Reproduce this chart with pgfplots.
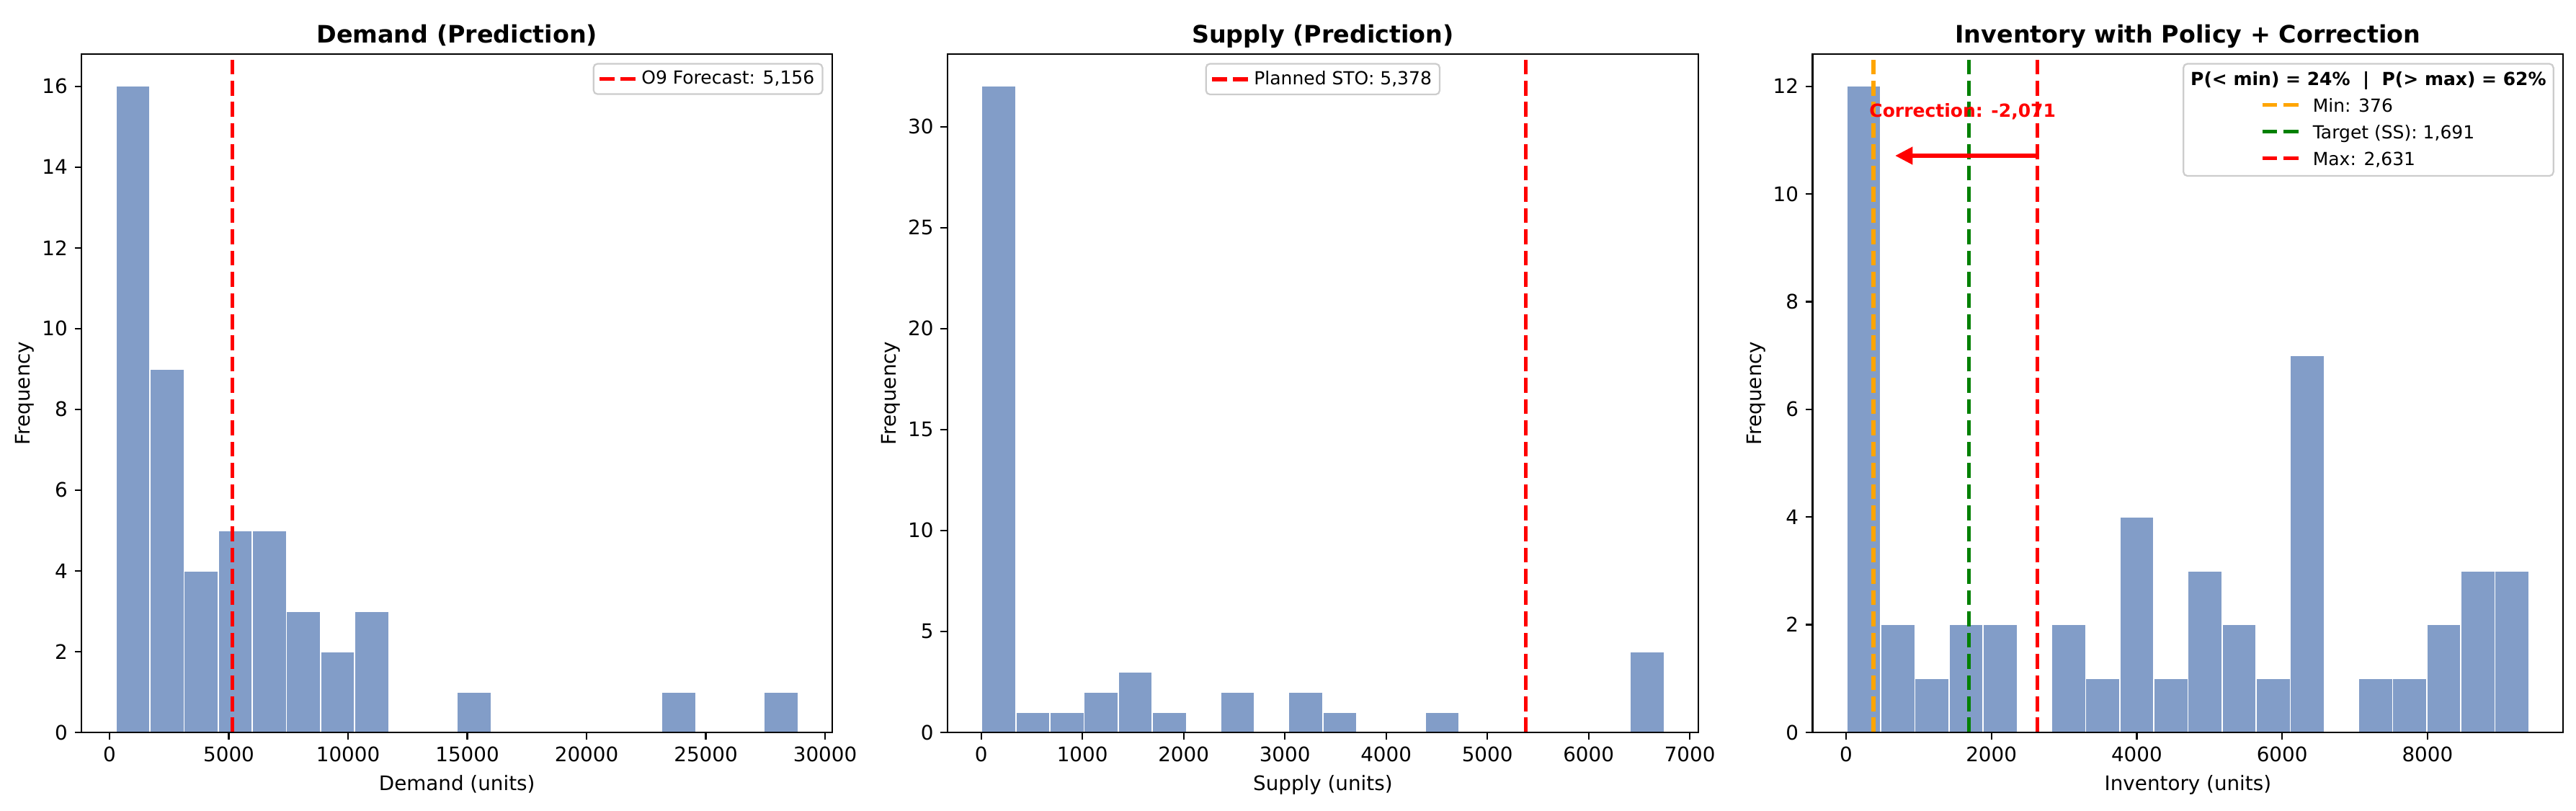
\documentclass[border=0pt]{standalone}
\usepackage{fontspec}
\setmainfont{DejaVu Sans}
\usepackage{pgfplots}
\pgfplotsset{compat=1.18}
\usetikzlibrary{arrows.meta}

\definecolor{barblue}{RGB}{130,157,200}
\definecolor{mplorange}{RGB}{255,165,0}
\definecolor{mplgreen}{RGB}{0,128,0}
\definecolor{mplred}{RGB}{255,0,0}
\definecolor{legedge}{RGB}{204,204,204}

\newlength{\entrywidth}
\newcommand{\handle}[1]{\textcolor{#1}{\rule[0.3em]{7.4pt}{2pt}\hspace{3.2pt}\rule[0.3em]{7.4pt}{2pt}}\hspace{7.3pt}}

\pgfplotsset{
  every axis title shift=0pt,
  mystyle/.style={
    scale only axis, width=375pt, height=338.8pt,
    anchor=south west,
    axis line style={line width=0.8pt},
    tick align=outside, tick pos=left,
    major tick length=3.5pt,
    every tick/.style={black, line width=0.8pt},
    tick label style={font=\fontsize{10}{12}\selectfont},
    label style={font=\fontsize{10}{12}\selectfont},
    ylabel style={yshift=-3pt},
    title style={font=\bfseries\fontsize{12}{14}\selectfont, at={(0.5,1)}, anchor=base, yshift=5.4pt},
    scaled ticks=false,
    /pgf/number format/1000 sep={},
    /pgf/number format/assume math mode=true,
    ymin=0,
    axis on top,
    legend cell align=left,
    legend style={font=\fontsize{9}{11}\selectfont, draw=legedge, rounded corners=2pt,
      fill=white, fill opacity=0.8, text opacity=1, inner xsep=2pt, inner ysep=1.5pt,
      line width=0.8pt},
    legend image code/.code={\draw[##1] (0pt,0pt) -- (18pt,0pt);},
  },
  hist/.style={ybar interval, fill=barblue, draw=white, line width=0.6pt, forget plot},
  vline/.style={line width=2pt, dash pattern=on 7.4pt off 3.2pt},
}

\begin{document}
\settowidth{\entrywidth}{\fontsize{9}{13.3}\selectfont\handle{black}Target (SS): 1,691}%
\begin{tikzpicture}
\path[use as bounding box] (0,0) rectangle (1287pt,404.64pt);

% ---------------- Panel 1: Demand ----------------
\begin{axis}[mystyle, at={(40.8pt,38.9pt)},
  xmin=-1169, xmax=30302, ymax=16.8,
  xtick={0,5000,10000,15000,20000,25000,30000},
  ytick={0,2,4,6,8,10,12,14,16},
  title={Demand (Prediction)},
  xlabel={Demand (units)}, ylabel={Frequency},
  legend style={at={(1,1)}, anchor=north east, xshift=-4.5pt, yshift=-4.5pt}]
\addplot[hist] coordinates {
(261.5,16) (1692,9) (3122.5,4) (4553,5) (5983.5,5) (7414,3) (8844.5,2) (10275,3)
(11705.5,0) (13136,0) (14566.5,1) (15997,0) (17427.5,0) (18858,0) (20288.5,0)
(21719,0) (23149.5,1) (24580,0) (26010.5,0) (27441,1) (28871.5,0)};
\addplot[vline, mplred] coordinates {(5156,0) (5156,16.8)};
\addlegendentry{O9 Forecast: 5,156}
\end{axis}

% ---------------- Panel 2: Supply ----------------
\begin{axis}[mystyle, at={(473.4pt,38.9pt)},
  xmin=-332, xmax=7082, ymax=33.6,
  xtick={0,1000,2000,3000,4000,5000,6000,7000},
  ytick={0,5,10,15,20,25,30},
  title={Supply (Prediction)},
  xlabel={Supply (units)}, ylabel={Frequency},
  legend style={at={(0.5,1)}, anchor=north, yshift=-4.5pt}]
\addplot[hist] coordinates {
(5,32) (342,1) (679,1) (1016,2) (1353,3) (1690,1) (2027,0) (2364,2) (2701,0)
(3038,2) (3375,1) (3712,0) (4049,0) (4386,1) (4723,0) (5060,0) (5397,0)
(5734,0) (6071,0) (6408,4) (6745,0)};
\addplot[vline, mplred] coordinates {(5378,0) (5378,33.6)};
\addlegendentry{Planned STO: 5,378}
\end{axis}

% ---------------- Panel 3: Inventory ----------------
\begin{axis}[mystyle, at={(905.6pt,38.9pt)},
  xmin=-459, xmax=9867, ymax=12.6,
  xtick={0,2000,4000,6000,8000},
  ytick={0,2,4,6,8,10,12},
  title={Inventory with Policy + Correction},
  xlabel={Inventory (units)}, ylabel={Frequency}]
\addplot[hist] coordinates {
(10,12) (479.4,2) (948.8,1) (1418.2,2) (1887.6,2) (2357,0) (2826.4,2)
(3295.8,1) (3765.2,4) (4234.6,1) (4704,3) (5173.4,2) (5642.8,1) (6112.2,7)
(6581.6,0) (7051,1) (7520.4,1) (7989.8,2) (8459.2,3) (8928.6,3) (9398,0)};
\addplot[vline, mplorange] coordinates {(376,0) (376,12.6)};
\addplot[vline, mplgreen] coordinates {(1691,0) (1691,12.6)};
\addplot[vline, mplred] coordinates {(2631,0) (2631,12.6)};
\addplot[mplred, line width=2.4pt, -{Triangle[length=8.8pt,width=8.4pt]}]
  coordinates {(2631,10.71) (675,10.71)};
\node[anchor=base, text=mplred, font=\bfseries\fontsize{9}{11}\selectfont, inner sep=0pt]
  at (axis cs:1604,11.43) {Correction: -2,071};
\node[anchor=north east, draw=legedge, line width=0.8pt, rounded corners=2pt, fill=white,
  fill opacity=0.8, text opacity=1, inner xsep=3.6pt, inner ysep=4.1pt,
  font=\fontsize{9}{13.3}\selectfont, align=center]
  at ([xshift=-4.5pt,yshift=-4.5pt]rel axis cs:1,1)
  {\textbf{P(< min) = 24\%\ \ |\ \ P(> max) = 62\%}\\
   \makebox[\entrywidth][l]{\handle{mplorange}Min: 376}\\
   \makebox[\entrywidth][l]{\handle{mplgreen}Target (SS): 1,691}\\
   \makebox[\entrywidth][l]{\handle{mplred}Max: 2,631}};
\end{axis}
\end{tikzpicture}
\end{document}
